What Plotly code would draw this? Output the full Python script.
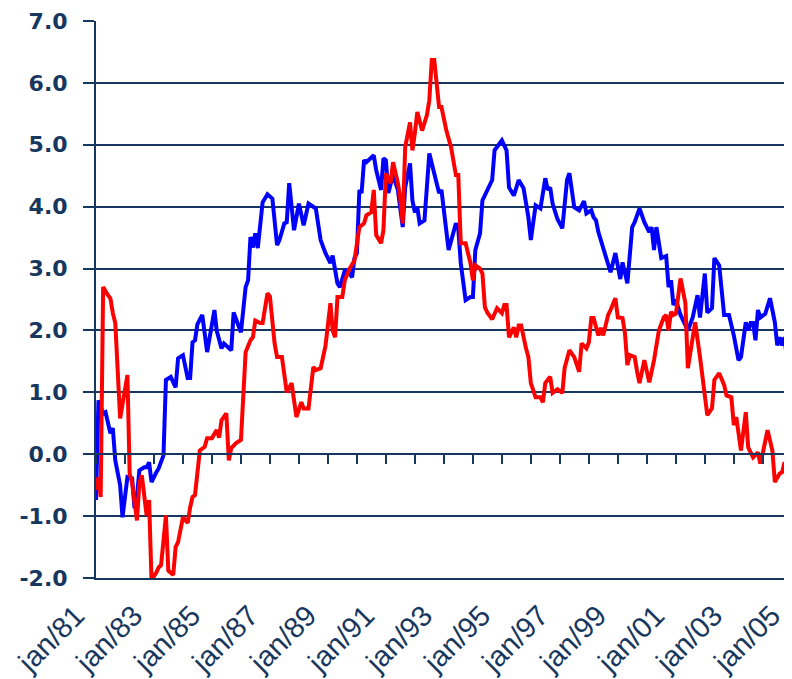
import plotly.graph_objects as go

# Month offsets since Jan 1981 and values
blue_months = [0,1,3,4,6,7,8,9,10,11,12,13,15,16,17,18,20,21,22,23,25,26,28,29,31,33,34,36,38,39,
               40,41,42,44,46,49,50,52,53,55,56,57,60,62,63,64,65,66,67,69,71,73,75,76,78,79,80,82,84,86,
               88,91,93,95,97,98,100,101,103,104,106,107,108,109,110,111,112,115,116,118,119,120,121,123,125,127,128,130,131,132,
               133,134,136,138,140,142,143,146,149,150,151,153,155,156,157,159,160,162,164,165,166,168,170,171,173,175,177,179,180,182,
               184,186,187,188,189,191,193,195,196,198,200,202,203,205,206,207,208,210,211,213,215,217,218,220,222,223,225,227,229,230,
               231,232,234,236,237,238,239,240,242,245,247,249,250,252,253,255,256,258,260,262,264,266,267,269,270,271,272,273,274,275,
               277,279,281,282,283,284,285,286]
blue_values = [-0.74,0.87,0.66,0.68,0.34,0.42,-0.1,-0.3,-0.5,-1.02,-0.69,-0.37,-0.39,-0.87,-0.69,-0.26,-0.21,-0.21,-0.13,-0.45,-0.29,-0.23,-0.02,1.2,1.25,1.08,1.55,1.6,1.23,1.23,
               1.81,1.84,2.1,2.25,1.65,2.33,2.0,1.71,1.79,1.71,1.68,2.29,1.97,2.7,2.81,3.51,3.34,3.57,3.33,4.07,4.2,4.13,3.38,3.46,3.73,3.75,4.38,3.62,4.05,3.7,
               4.05,3.97,3.46,3.25,3.09,3.21,2.76,2.70,2.97,2.97,2.86,3.17,3.25,4.27,4.22,4.75,4.72,4.83,4.59,4.27,4.78,4.75,4.22,4.51,4.27,3.67,4.31,4.70,4.10,3.91,
               3.99,3.73,3.78,4.86,4.54,4.22,4.27,3.30,3.73,3.65,3.09,2.49,2.54,2.54,3.30,3.57,4.10,4.27,4.43,4.91,4.96,5.07,4.91,4.31,4.18,4.43,4.30,3.83,3.46,4.02,
               3.97,4.46,4.27,4.31,4.05,3.8,3.65,4.43,4.54,3.99,3.94,4.09,3.89,3.94,3.83,3.78,3.59,3.33,3.25,2.94,3.25,2.83,3.10,2.76,3.67,3.75,3.97,3.75,3.59,3.67,
               3.30,3.67,3.17,3.20,2.70,2.81,2.41,2.5,2.25,2.0,2.21,2.57,2.21,2.92,2.29,2.36,3.17,3.05,2.25,2.25,1.92,1.52,1.57,2.13,2.0,2.12,2.12,1.84,2.33,2.21,
               2.27,2.52,2.13,1.76,1.89,1.76,1.89,1.52]

red_months = [0,1,2,3,5,6,7,8,10,11,13,14,15,17,18,19,20,21,22,23,25,26,27,29,30,32,33,34,36,38,
              39,40,41,43,45,46,48,50,51,52,54,55,56,58,60,61,62,64,65,66,68,69,71,72,74,75,77,79,81,83,
              85,86,88,89,90,91,93,95,97,98,99,100,102,103,105,107,108,109,111,112,114,115,116,118,119,120,122,123,125,126,
              127,128,130,131,132,133,135,137,138,139,140,142,143,145,147,149,150,151,153,155,156,157,159,160,161,162,164,166,168,169,
              170,171,173,174,175,176,178,179,180,182,184,185,186,188,189,191,193,194,196,198,200,201,203,204,205,206,208,209,210,212,
              213,215,216,218,219,220,221,223,224,225,227,229,231,233,235,236,237,238,239,240,242,244,245,248,250,251,253,255,256,258,
              260,261,263,264,265,267,269,270,272,274,275,276,278,280,281,283,284,285,286]
red_values = [-0.58,-0.37,-0.69,2.70,2.57,2.52,2.28,2.12,0.58,0.82,1.28,-0.31,-0.47,-1.07,-0.47,-0.34,-0.74,-0.99,-0.74,-2.03,-1.91,-1.83,-1.79,-0.99,-1.88,-1.95,-1.50,-1.42,-1.02,-1.11,
              -0.86,-0.69,-0.66,0.06,0.12,0.26,0.26,0.39,0.27,0.55,0.66,-0.1,0.1,0.18,0.23,1.08,1.65,1.84,1.89,2.16,2.12,2.12,2.60,2.55,1.79,1.57,1.57,1.0,1.15,0.6,
              0.84,0.74,0.74,1.08,1.41,1.36,1.39,1.75,2.44,2.0,1.89,2.54,2.54,2.81,3.0,3.13,3.41,3.67,3.73,3.86,3.91,4.27,3.54,3.41,3.62,4.54,4.38,4.72,4.38,4.13,
              3.73,4.96,5.36,4.91,5.19,5.53,5.23,5.48,5.72,6.37,6.37,5.61,5.61,5.23,4.96,4.51,4.51,3.41,3.41,3.09,2.81,3.05,3.0,2.92,2.38,2.29,2.18,2.36,2.28,2.41,
              2.41,1.89,2.05,1.89,2.08,2.08,1.71,1.57,1.15,0.92,0.92,0.84,1.15,1.25,0.99,1.05,0.99,1.39,1.68,1.57,1.33,1.79,1.71,1.81,2.2,2.2,1.92,2.04,1.92,2.25,
              2.33,2.52,2.21,2.2,1.95,1.44,1.6,1.57,1.33,1.15,1.52,1.16,1.52,2.0,2.21,2.25,2.0,2.3,2.25,2.27,2.84,2.44,1.39,2.13,1.57,1.25,0.63,0.74,1.2,1.31,
              1.12,0.95,0.92,0.47,0.6,0.06,0.68,0.11,-0.05,0.03,-0.15,0.02,0.39,0.06,-0.45,-0.31,-0.29,-0.13,-0.37]

tick_years = list(range(1981, 2006, 2))
tick_labels = ["jan/%02d" % (y % 100) for y in tick_years]
y_ticks = [-2, -1, 0, 1, 2, 3, 4, 5, 6, 7]
y_labels = ["-2.0", "-1.0", "0.0", "1.0", "2.0", "3.0", "4.0", "5.0", "6.0", "7.0"]


def to_date(m):
    return "%04d-%02d-01" % (1981 + m // 12, m % 12 + 1)


NAVY = "#17375E"

fig = go.Figure()
fig.add_trace(go.Scatter(x=[to_date(m) for m in blue_months], y=blue_values, mode="lines",
                         line=dict(color="#0000FF", width=4), showlegend=False))
fig.add_trace(go.Scatter(x=[to_date(m) for m in red_months], y=red_values, mode="lines",
                         line=dict(color="#FF0000", width=4), showlegend=False))

# page body has an 8px margin, so the figure is sized/offset to compensate
fig.update_layout(
    width=784, height=671,
    margin=dict(l=88, r=0, t=13, b=101, autoexpand=False),
    paper_bgcolor="white", plot_bgcolor="white",
    xaxis=dict(
        type="date",
        range=["1981-01-01", "2005-01-03"],
        tickvals=["%d-01-01" % y for y in tick_years],
        ticktext=tick_labels,
        tickangle=-45,
        ticks="",
        showgrid=False,
        showline=True, linecolor=NAVY, linewidth=2,
        tickfont=dict(family="Liberation Sans, Arial", size=29, color=NAVY),
        ticklabelshift=-20,
        ticklabelstandoff=7,
        zeroline=False,
        automargin=False,
    ),
    xaxis2=dict(
        type="date",
        matches="x",
        overlaying="x",
        anchor="free",
        position=2 / 9,
        side="bottom",
        showline=True, linecolor=NAVY, linewidth=2,
        ticks="outside", ticklen=9, tickwidth=2, tickcolor=NAVY,
        dtick="M12", tick0="1981-01-01",
        showticklabels=False,
        showgrid=False, zeroline=False,
        automargin=False,
    ),
    yaxis=dict(
        range=[-2, 7],
        tickvals=y_ticks,
        ticktext=y_labels,
        showgrid=True, gridcolor=NAVY, gridwidth=2,
        showline=True, linecolor=NAVY, linewidth=2,
        ticks="outside", ticklen=11, tickwidth=2, tickcolor=NAVY,
        tickfont=dict(family="DejaVu Sans", size=22, color=NAVY, weight="bold"),
        ticklabelstandoff=11,
        zeroline=False,
        automargin=False,
    ),
)
# dummy trace so the overlay axis at y=0 is rendered
fig.add_trace(go.Scatter(x=[to_date(0)], y=[None], xaxis="x2", mode="lines", showlegend=False, hoverinfo="skip"))

fig.write_html("out.html")
